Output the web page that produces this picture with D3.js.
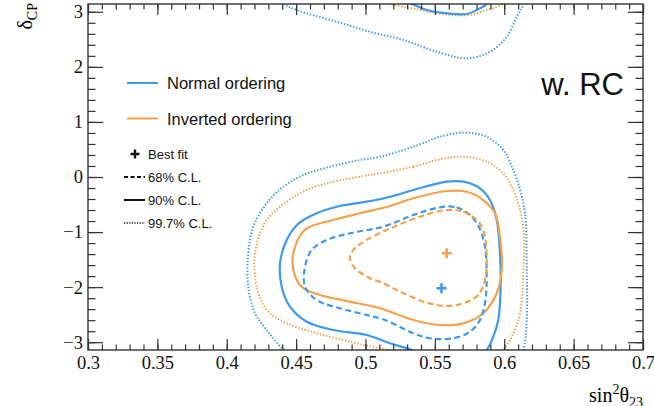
<html>
<head>
<style>
  body { margin: 0; background: #fff; }
</style>
</head>
<body>
<script src="https://d3js.org/d3.v7.min.js"></script>
<script>
    // axis ticks
    var xTicks = [0.3, 0.35, 0.4, 0.45, 0.5, 0.55, 0.6, 0.65, 0.7],
        yTicks = [-3, -2, -1, 0, 1, 2, 3];

    // best fit points [sin^2 theta23, delta_CP]
    var bestNO = [0.5548, -2.02],
        bestIO = [0.5585, -1.385];

    // contours, delta_CP unwrapped below -pi where they cross the edge
    var no68 = [[0.5537, -0.550], [0.5657, -0.550], [0.5753, -0.690], [0.5818, -0.908], [0.5861, -1.266], [0.5873, -1.870],
        [0.5861, -2.293], [0.5825, -2.597], [0.5753, -2.809], [0.5633, -2.929], [0.5465, -2.929], [0.5345, -2.838],
        [0.5141, -2.597], [0.5009, -2.506], [0.4816, -2.384], [0.4648, -2.233], [0.4564, -1.992], [0.4564, -1.629],
        [0.4612, -1.326], [0.4720, -1.144], [0.4888, -1.022], [0.5128, -0.902], [0.5345, -0.690]];

    var no90 = [[0.5585, -0.085], [0.5705, -0.085], [0.5825, -0.205], [0.5897, -0.418], [0.5946, -0.781], [0.5969, -1.386],
        [0.5974, -1.992], [0.5957, -2.597], [0.5921, -2.900], [0.5873, -3.142], [0.5825, -3.220], [0.5729, -3.323],
        [0.5585, -3.310], [0.5441, -3.250], [0.5321, -3.129], [0.5177, -3.020], [0.5009, -2.869], [0.4768, -2.778],
        [0.4576, -2.628], [0.4456, -2.355], [0.4396, -1.992], [0.4384, -1.567], [0.4432, -1.144], [0.4514, -0.853],
        [0.4648, -0.659], [0.4816, -0.527], [0.5009, -0.448], [0.5177, -0.358], [0.5345, -0.236]];

    var no997 = [[0.5105, 0.369], [0.5345, 0.550], [0.5537, 0.732], [0.5705, 0.805], [0.5873, 0.732], [0.5993, 0.490],
        [0.6065, 0.127], [0.6114, -0.236], [0.6150, -0.659], [0.6162, -1.689], [0.6162, -2.597], [0.6137, -3.142],
        [0.6090, -3.372], [0.6018, -3.735], [0.5897, -4.008], [0.5729, -4.128], [0.5513, -4.008], [0.5272, -3.795],
        [0.5032, -3.645], [0.4792, -3.463], [0.4504, -3.251], [0.4408, -3.129], [0.4288, -2.778], [0.4204, -2.475],
        [0.4155, -1.992], [0.4155, -1.386], [0.4191, -0.902], [0.4288, -0.477], [0.4408, -0.176], [0.4552, 0.036],
        [0.4744, 0.187], [0.4960, 0.309]];

    var io68 = [[0.5585, -0.599], [0.5705, -0.630], [0.5801, -0.781], [0.5849, -0.962], [0.5873, -1.386], [0.5861, -1.870],
        [0.5813, -2.143], [0.5705, -2.293], [0.5585, -2.342], [0.5441, -2.282], [0.5249, -2.083], [0.5126, -1.925],
        [0.5032, -1.839], [0.4924, -1.658], [0.4888, -1.476], [0.4912, -1.326], [0.5009, -1.144], [0.5184, -0.926],
        [0.5393, -0.721]];

    var io90 = [[0.5585, -0.254], [0.5729, -0.267], [0.5849, -0.418], [0.5933, -0.659], [0.5969, -1.084], [0.5982, -1.689],
        [0.5946, -2.112], [0.5849, -2.475], [0.5705, -2.657], [0.5537, -2.688], [0.5345, -2.597], [0.5105, -2.384],
        [0.4888, -2.264], [0.4672, -2.143], [0.4540, -1.992], [0.4480, -1.689], [0.4492, -1.266], [0.4571, -0.944],
        [0.4768, -0.781], [0.4960, -0.659], [0.5177, -0.527], [0.5345, -0.387]];

    var io997 = [[0.5105, 0.067], [0.5345, 0.187], [0.5537, 0.321], [0.5705, 0.369], [0.5873, 0.278], [0.5993, 0.067],
        [0.6065, -0.236], [0.6114, -0.599], [0.6142, -1.022], [0.6139, -1.598], [0.6114, -2.475], [0.6054, -2.900],
        [0.5990, -3.142], [0.5873, -3.251], [0.5753, -3.341], [0.5609, -3.341], [0.5393, -3.251], [0.5105, -3.111],
        [0.4888, -2.991], [0.4648, -2.838], [0.4432, -2.657], [0.4288, -2.415], [0.4216, -1.992], [0.4204, -1.386],
        [0.4283, -0.799], [0.4432, -0.448], [0.4576, -0.236], [0.4768, -0.085], [0.4960, 0.006]];

    var blue = '#3d98ee', orange = '#f6a04a';

    var width = 654, height = 406,
        pL = 88, pR = 643, pT = 4, pB = 350;   // plot frame

    var x = d3.scaleLinear().domain([0.3, 0.7]).range([pL, pR]);
    var y = d3.scaleLinear().domain([-Math.PI, Math.PI]).range([pB, pT]);

    var svg = d3.select('body').append('svg')
        .attr('width', width)
        .attr('height', height);

    svg.append('clipPath').attr('id', 'plot')
        .append('rect')
        .attr('x', pL).attr('y', pT)
        .attr('width', pR - pL).attr('height', pB - pT);

    var styles = {
        '68': { dash: '6,3.5', w: 2.2 },
        '90': { dash: null, w: 2.2 },
        '997': { dash: '1.4,1.8', w: 2 }
    };

    var contours = [
        { pts: no997, c: blue, cl: '997' }, { pts: io997, c: orange, cl: '997' },
        { pts: no90, c: blue, cl: '90' }, { pts: io90, c: orange, cl: '90' },
        { pts: no68, c: blue, cl: '68' }, { pts: io68, c: orange, cl: '68' }
    ];

    var g = svg.append('g').attr('clip-path', 'url(#plot)');

    // each contour drawn at delta and delta + 2pi so the periodic wrap shows at the top
    [0, 2 * Math.PI].forEach(function (shift) {
        var line = d3.line()
            .x(d => x(d[0]))
            .y(d => y(d[1] + shift))
            .curve(d3.curveCatmullRomClosed.alpha(0.5));
        g.selectAll(null)
            .data(contours)
            .enter()
            .append('path')
            .attr('d', d => line(d.pts))
            .attr('fill', 'none')
            .attr('stroke', d => d.c)
            .attr('stroke-width', d => styles[d.cl].w)
            .attr('stroke-dasharray', d => styles[d.cl].dash);
    });

    // best fit markers
    g.selectAll(null)
        .data([{ p: bestNO, c: blue }, { p: bestIO, c: orange }])
        .enter()
        .append('path')
        .attr('d', 'M-5,0H5M0,-5V5')
        .attr('transform', d => `translate(${x(d.p[0])},${y(d.p[1])})`)
        .attr('stroke', d => d.c)
        .attr('stroke-width', 2.6);

    // axes: inward ticks on all four sides
    var xMinor = d3.range(30, 71).map(d => d / 100),
        yMinor = d3.range(-15, 16).map(d => d / 5);
    var axisCol = '#333';

    function style(sel) {
        sel.select('.domain').remove();
        sel.selectAll('line').attr('stroke', axisCol).attr('stroke-width', 1.2);
        sel.selectAll('text')
            .attr('font-family', '"Liberation Serif", "Times New Roman", serif')
            .attr('font-size', 18.5)
            .attr('fill', '#111');
    }

    svg.append('g').attr('transform', `translate(0,${pB})`)
        .call(d3.axisBottom(x).tickValues(xMinor).tickSizeInner(-5.5).tickSizeOuter(0).tickFormat(''))
        .call(style);
    svg.append('g').attr('transform', `translate(0,${pB})`)
        .call(d3.axisBottom(x).tickValues(xTicks).tickSizeInner(-11).tickSizeOuter(0).tickPadding(6)
            .tickFormat(d => String(+d.toFixed(2))))
        .call(style);
    svg.append('g').attr('transform', `translate(0,${pT})`)
        .call(d3.axisTop(x).tickValues(xMinor).tickSizeInner(-5.5).tickSizeOuter(0).tickFormat(''))
        .call(style);
    svg.append('g').attr('transform', `translate(0,${pT})`)
        .call(d3.axisTop(x).tickValues(xTicks).tickSizeInner(-11).tickSizeOuter(0).tickFormat(''))
        .call(style);

    svg.append('g').attr('transform', `translate(${pL},0)`)
        .call(d3.axisLeft(y).tickValues(yMinor).tickSizeInner(-7.5).tickSizeOuter(0).tickFormat(''))
        .call(style);
    svg.append('g').attr('transform', `translate(${pL},0)`)
        .call(d3.axisLeft(y).tickValues(yTicks).tickSizeInner(-15).tickSizeOuter(0).tickPadding(5)
            .tickFormat(d3.format('d')))
        .call(style);
    svg.append('g').attr('transform', `translate(${pR},0)`)
        .call(d3.axisRight(y).tickValues(yMinor).tickSizeInner(-7.5).tickSizeOuter(0).tickFormat(''))
        .call(style);
    svg.append('g').attr('transform', `translate(${pR},0)`)
        .call(d3.axisRight(y).tickValues(yTicks).tickSizeInner(-15).tickSizeOuter(0).tickFormat(''))
        .call(style);

    // frame
    svg.append('rect')
        .attr('x', pL).attr('y', pT)
        .attr('width', pR - pL).attr('height', pB - pT)
        .attr('fill', 'none').attr('stroke', axisCol).attr('stroke-width', 1.4);

    // axis titles
    var xt = svg.append('text')
        .attr('x', pR).attr('y', 402)
        .attr('text-anchor', 'end')
        .attr('font-family', '"Liberation Serif", serif')
        .attr('font-size', 20);
    xt.append('tspan').text('sin');
    xt.append('tspan').attr('font-size', 14).attr('dy', -8).text('2');
    xt.append('tspan').attr('dy', 8).text('θ');
    xt.append('tspan').attr('font-size', 14).attr('dy', 5).text('23');

    var yt = svg.append('text')
        .attr('transform', 'translate(32,3) rotate(-90)')
        .attr('text-anchor', 'end')
        .attr('font-family', '"Liberation Serif", serif')
        .attr('font-size', 20);
    yt.append('tspan').text('δ');
    yt.append('tspan').attr('font-size', 14).attr('dy', 5).text('CP');

    // legend
    var sans = '"Liberation Sans", Arial, sans-serif';
    var lg = svg.append('g');
    [{ t: 'Normal ordering', c: blue, y: 83 }, { t: 'Inverted ordering', c: orange, y: 118.5 }].forEach(function (d) {
        lg.append('line').attr('x1', 127).attr('x2', 158).attr('y1', d.y).attr('y2', d.y)
            .attr('stroke', d.c).attr('stroke-width', 2);
        lg.append('text').attr('x', 167).attr('y', d.y + 6).text(d.t)
            .attr('font-family', sans).attr('font-size', 16.5).attr('fill', '#111');
    });

    lg.append('path').attr('d', 'M-4.5,0H4.5M0,-4.5V4.5')
        .attr('transform', 'translate(135,154)')
        .attr('stroke', '#111').attr('stroke-width', 2.4);
    lg.append('text').attr('x', 148).attr('y', 158.5).text('Best fit')
        .attr('font-family', sans).attr('font-size', 13).attr('fill', '#111');

    [{ t: '68% C.L.', cl: '68', y: 177 }, { t: '90% C.L.', cl: '90', y: 200 }, { t: '99.7% C.L.', cl: '997', y: 223 }]
        .forEach(function (d) {
            lg.append('line').attr('x1', 124).attr('x2', 145).attr('y1', d.y).attr('y2', d.y)
                .attr('stroke', '#111').attr('stroke-width', d.cl == '997' ? 1.3 : 2)
                .attr('stroke-dasharray', d.cl == '68' ? '4,2.5' : d.cl == '997' ? '1.2,1.4' : null);
            lg.append('text').attr('x', 148).attr('y', d.y + 4.5).text(d.t)
                .attr('font-family', sans).attr('font-size', 13).attr('fill', '#111');
        });

    svg.append('text')
        .attr('x', 624).attr('y', 95)
        .attr('text-anchor', 'end')
        .attr('font-family', sans)
        .attr('font-size', 31)
        .attr('fill', '#111')
        .text('w. RC');
</script>
</body>
</html>
